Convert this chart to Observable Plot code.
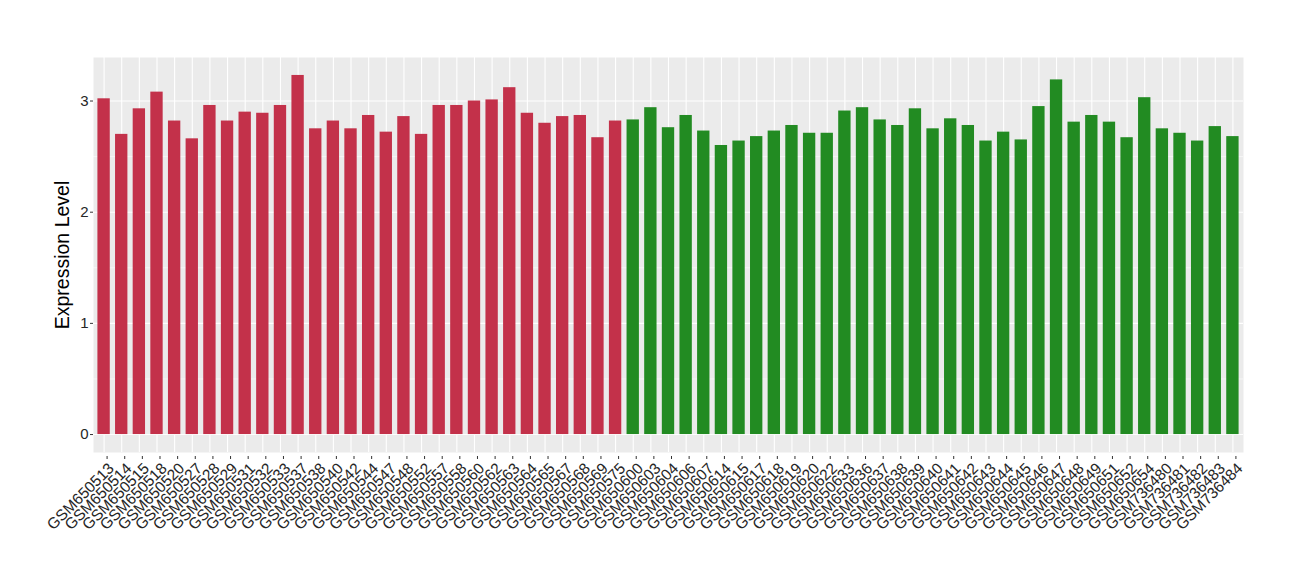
<!DOCTYPE html>
<html>
<head>
<meta charset="utf-8">
<script src="https://cdn.jsdelivr.net/npm/d3@7"></script>
<script src="https://cdn.jsdelivr.net/npm/@observablehq/plot@0.6"></script>
<style>
  html, body { margin: 0; padding: 0; background: #ffffff; }
  #chart { width: 1300px; height: 580px; }
  #chart svg g[aria-label="x-axis tick label"] text { font-size: 15.5px; }
  #chart svg g[aria-label="y-axis tick label"] text { font-size: 15px; }
</style>
</head>
<body>
<div id="chart"></div>
<script>
const samples = [
  "GSM650513","GSM650514","GSM650515","GSM650518","GSM650520","GSM650527","GSM650528","GSM650529","GSM650531","GSM650532",
  "GSM650533","GSM650537","GSM650538","GSM650540","GSM650542","GSM650544","GSM650547","GSM650548","GSM650552","GSM650557",
  "GSM650558","GSM650560","GSM650562","GSM650563","GSM650564","GSM650565","GSM650567","GSM650568","GSM650569","GSM650575",
  "GSM650600","GSM650603","GSM650604","GSM650606","GSM650607","GSM650614","GSM650615","GSM650617","GSM650618","GSM650619",
  "GSM650620","GSM650622","GSM650633","GSM650636","GSM650637","GSM650638","GSM650639","GSM650640","GSM650641","GSM650642",
  "GSM650643","GSM650644","GSM650645","GSM650646","GSM650647","GSM650648","GSM650649","GSM650651","GSM650652","GSM650654",
  "GSM736480","GSM736481","GSM736482","GSM736483","GSM736484"
];
const values = [
  3.02, 2.70, 2.93, 3.08, 2.82, 2.66, 2.96, 2.82, 2.90, 2.89,
  2.96, 3.23, 2.75, 2.82, 2.75, 2.87, 2.72, 2.86, 2.70, 2.96,
  2.96, 3.00, 3.01, 3.12, 2.89, 2.80, 2.86, 2.87, 2.67, 2.82,
  2.83, 2.94, 2.76, 2.87, 2.73, 2.60, 2.64, 2.68, 2.73, 2.78,
  2.71, 2.71, 2.91, 2.94, 2.83, 2.78, 2.93, 2.75, 2.84, 2.78,
  2.64, 2.72, 2.65, 2.95, 3.19, 2.81, 2.87, 2.81, 2.67, 3.03,
  2.75, 2.71, 2.64, 2.77, 2.68
];
const groupNames = ["Group A", "Group B"];
const groupSizes = [30, 35];
const groupColors = ["#C3314A", "#228B22"];
const yTicks = [0, 1, 2, 3];
const yMinorTicks = [0.5, 1.5, 2.5];
const yLabel = "Expression Level";

const groups = groupSizes.flatMap((n, i) => Array(n).fill(groupNames[i]));
const data = samples.map((s, i) => ({sample: s, value: values[i], group: groups[i]}));

const maxV = d3.max(values);
const pad = maxV * 0.05;

const font = "'Liberation Sans', Arial, Helvetica, sans-serif";

const chart = Plot.plot({
  width: 1300,
  height: 580,
  marginLeft: 93,
  marginRight: 57,
  marginTop: 57,
  marginBottom: 128,
  style: {fontFamily: font, background: "#ffffff", overflow: "visible"},
  x: {type: "band", domain: samples, paddingInner: 0.3, paddingOuter: 0.25, align: 0.5, label: null},
  y: {domain: [-pad, maxV + pad], label: null},
  color: {domain: groupNames, range: groupColors},
  marks: [
    Plot.frame({fill: "#EBEBEB", stroke: null}),
    Plot.gridY(yMinorTicks, {stroke: "#ffffff", strokeOpacity: 1, strokeWidth: 0.55}),
    Plot.gridY(yTicks, {stroke: "#ffffff", strokeOpacity: 1, strokeWidth: 1.1}),
    Plot.gridX(samples, {stroke: "#ffffff", strokeOpacity: 1, strokeWidth: 1.1}),
    Plot.barY(data, {x: "sample", y: "value", fill: "group"}),
    Plot.axisY(yTicks, {
      tickSize: 3, tickPadding: 2, fontSize: 15, fill: "#262626", stroke: "#333333",
      label: null, tickFormat: d => String(d)
    }),
    Plot.axisX(samples, {
      tickSize: 3, tickPadding: 2, tickRotate: -45, fontSize: 15.5,
      textAnchor: "end", lineAnchor: "top", dx: 3, dy: 4,
      fill: "#262626", stroke: "#333333", label: null
    }),
    Plot.text([yLabel], {
      frameAnchor: "left", rotate: -90, dx: -31, textAnchor: "middle", lineAnchor: "middle",
      fontSize: 19.5, fill: "#000000", text: d => d
    })
  ]
});
document.getElementById("chart").appendChild(chart);
</script>
</body>
</html>
